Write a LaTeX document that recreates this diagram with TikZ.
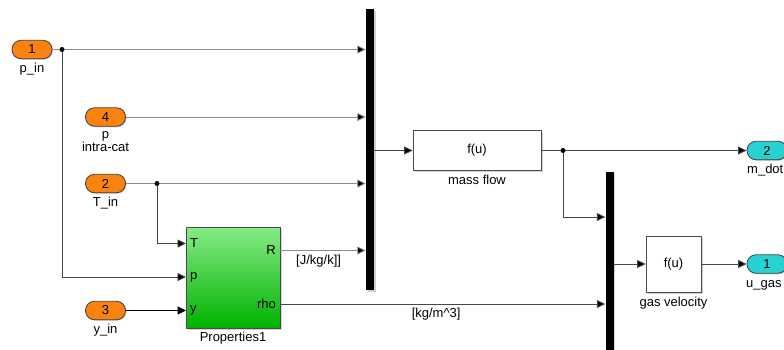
\documentclass[tikz,border=0pt]{standalone}
\usepackage{fontspec}
\setmainfont{Liberation Sans}
\usetikzlibrary{arrows.meta,shadows}
\definecolor{inorange}{RGB}{250,130,15}
\definecolor{outcyan}{RGB}{40,210,210}
\definecolor{lgray}{RGB}{140,140,140}
\definecolor{dgray}{RGB}{70,70,70}
\definecolor{gtop}{RGB}{135,235,135}
\definecolor{gbot}{RGB}{0,178,0}
\begin{document}
\begin{tikzpicture}[x=1pt,y=-1pt,
  txt/.style={font=\fontsize{13}{13}\selectfont, inner sep=0pt},
  pill/.style={draw=black!75, line width=0.8pt, rounded corners=9pt, minimum width=40pt, minimum height=18.5pt, inner sep=0pt, font=\fontsize{13}{13}\selectfont, drop shadow={shadow xshift=1pt, shadow yshift=-1pt, fill=black!30, opacity=0.6}},
  inport/.style={pill, fill=inorange},
  outport/.style={pill, fill=outcyan},
  blockbox/.style={draw=black!70, line width=0.7pt, fill=white, inner sep=0pt, font=\fontsize{13}{13}\selectfont, drop shadow={shadow xshift=1.5pt, shadow yshift=-1.5pt, fill=black!30, opacity=0.6}},
  muxbar/.style={fill=black, draw=none, minimum width=8pt, inner sep=0pt, drop shadow={shadow xshift=1.5pt, shadow yshift=-1.5pt, fill=black!30, opacity=0.6}},
  sig/.style={draw=dgray, line width=0.9pt, arrows={-{Triangle[length=8.5pt,width=8pt,fill=black]}}},
  lsig/.style={sig, draw=lgray},
  wire/.style={draw=dgray, line width=0.9pt},
  lwire/.style={draw=lgray, line width=0.9pt},
  dotn/.style={circle, fill=black, inner sep=0pt, minimum size=5pt},
]
\useasboundingbox (0,0) rectangle (784,349);
\fill[white] (0,0) rectangle (784,349);

% inports
\node[inport] (in1) at (32,49.5) {1};
\node[inport] (in4) at (105.5,117) {4};
\node[inport] (in2) at (105.5,183.5) {2};
\node[inport] (in3) at (105.5,310.5) {3};
\node[txt] (l1) at (32,69) {p\_in};
\node[txt, align=center, font=\fontsize{13}{12}\selectfont] (l4) at (105.5,142) {p\\intra-cat};
\node[txt] (l2) at (105.5,203) {T\_in};
\node[txt] (l3) at (105.5,330) {y\_in};

% Properties block
\node[blockbox, draw=black!70, top color=gtop, bottom color=gbot, minimum width=94pt, minimum height=101pt] (prop) at (233,277.5) {};
\node[txt, anchor=west] (pTl) at (190,243.5) {T};
\node[txt, anchor=west] (pPl) at (190,277) {p};
\node[txt, anchor=west] (pYl) at (190,310) {y};
\node[txt, anchor=east] (pRl) at (276,250) {R};
\node[txt, anchor=east] (pRhol) at (276,304) {rho};
\node[txt] (propl) at (233,338) {Properties1};
\coordinate (pT) at (186,243.5);
\coordinate (pP) at (186,277);
\coordinate (pY) at (186,310.5);
\coordinate (pR) at (280,250.5);
\coordinate (pRho) at (280,304);

% mux bars
\node[muxbar, minimum height=281pt] (mux1) at (370,149.5) {};
\node[muxbar, minimum height=190pt] (mux2) at (609.5,267) {};

% function blocks
\node[blockbox, minimum width=128pt, minimum height=40pt] (mass) at (477,150.5) {f(u)};
\node[txt] (massl) at (477,180) {mass flow};
\node[blockbox, minimum width=55pt, minimum height=56pt] (gas) at (673.5,264) {f(u)};
\node[txt] (gasl) at (673.5,303) {gas velocity};

% outports
\node[outport] (out2) at (767,150.5) {2};
\node[outport] (out1) at (767,264) {1};
\node[txt, anchor=west] (o2l) at (747,170) {m\_dot};
\node[txt, anchor=west] (o1l) at (746,285) {u\_gas};

% branch points
\coordinate (b1) at (62,49.5);
\coordinate (b2) at (157,183.5);
\coordinate (b3) at (563,150.5);

% wires into mux1
\draw[lwire] (in1.east) -- (b1);
\draw[lsig] (b1) -- (b1 -| mux1.west);
\draw[lsig] (in4.east) -- (in4.east -| mux1.west);
\draw[lwire] (in2.east) -- (b2);
\draw[lsig] (b2) -- (b2 -| mux1.west);
\draw[lsig] (pR) -- (pR -| mux1.west) node[pos=0.45, below=4pt, txt] (Rl) {[J/kg/k]]};

% wires into Properties
\draw[sig] (b1) |- (pP);
\draw[sig] (b2) |- (pT);
\draw[sig, draw=black, line width=1.5pt] (in3.east) -- (pY);

% mux1 -> mass flow
\draw[sig] (mux1.east |- mass.west) -- (mass.west);
\draw[wire] (mass.east) -- (b3);
\draw[sig] (b3) -- (out2.west);
\draw[sig] (b3) |- (mux2.west |- 0,217);
\draw[sig] (pRho) -- (pRho -| mux2.west) node[pos=0.48, below=4pt, txt] (rhol) {[kg/m\^{}3]};

% mux2 -> gas velocity
\draw[sig] (mux2.east |- gas.west) -- (gas.west);
\draw[sig] (gas.east) -- (out1.west);

% dots
\node[dotn] (d1) at (b1) {};
\node[dotn] (d2) at (b2) {};
\node[dotn] (d3) at (b3) {};
\end{tikzpicture}
\end{document}
